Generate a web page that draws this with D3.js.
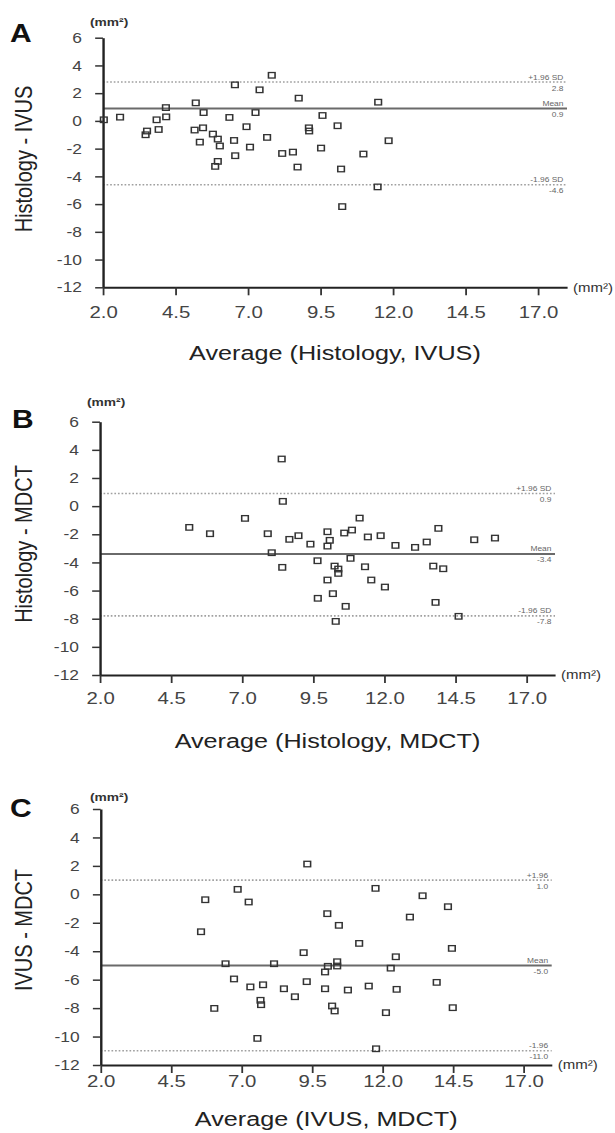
<!DOCTYPE html>
<html>
<head>
<meta charset="utf-8">
<script src="https://cdn.jsdelivr.net/npm/d3@7"></script>
<style>
  body { margin: 0; background: #fff; }
  text { font-family: "Liberation Sans", Arial, Helvetica, sans-serif; }
</style>
</head>
<body>
<div id="chart"></div>
<script>
// ---- data ----
const xTicks = [2.0, 4.5, 7.0, 9.5, 12.0, 14.5, 17.0];
const yTicks = [6, 4, 2, 0, -2, -4, -6, -8, -10, -12];

// A: Histology - IVUS
const histIvusAvg = [2.03, 2.59, 3.47, 3.52, 3.85, 3.92, 4.17, 4.18, 5.20, 5.16, 5.45, 5.47, 5.34, 5.79, 5.96,
  6.03, 5.96, 5.87, 6.55, 6.36, 6.52, 6.56, 6.95, 7.07, 7.40, 7.26, 7.82, 7.66, 8.18, 8.55, 8.75, 8.71, 9.10,
  9.11, 9.57, 9.52, 10.09, 10.21, 10.25, 10.98, 11.49, 11.47, 11.85];
const histIvusDiff = [0.08, 0.27, -1.0, -0.73, 0.08, -0.62, 0.96, 0.29, 1.30, -0.66, -0.50, 0.6, -1.53, -0.95, -1.31,
  -1.81, -2.92, -3.28, 2.6, 0.25, -1.41, -2.51, -0.42, -1.89, 2.24, 0.6, 3.29, -1.19, -2.35, -2.25, 1.64, -3.33, -0.5,
  -0.73, 0.39, -1.96, -0.35, -3.47, -6.18, -2.39, 1.35, -4.76, -1.43];
const histIvusLimits = [2.8, 0.9, -4.6];

// B: Histology - MDCT
const histMdctAvg = [5.14, 5.87, 7.10, 7.90, 8.04, 8.39, 8.43, 8.41, 8.66, 8.98, 9.40, 9.65, 10.0, 10.08, 10.0,
  10.25, 10.38, 10.38, 10.0, 10.19, 9.66, 10.29, 10.59, 10.86, 11.13, 10.81, 11.32, 11.42, 11.87, 11.54, 12.02,
  12.39, 13.08, 13.49, 13.9, 13.72, 14.07, 13.8, 15.16, 15.89, 14.61, 10.64];
const histMdctDiff = [-1.51, -1.96, -0.87, -1.96, -3.31, 3.35, 0.34, -4.35, -2.36, -2.1, -2.7, -3.88, -1.82, -2.43, -2.84,
  -4.26, -4.47, -4.78, -5.25, -6.22, -6.55, -8.19, -1.91, -1.7, -0.85, -3.71, -4.31, -2.19, -2.1, -5.25, -5.75,
  -2.79, -2.93, -2.55, -1.58, -4.26, -4.45, -6.84, -2.39, -2.27, -7.83, -7.12];
const histMdctLimits = [0.9, -3.4, -7.8];

// C: IVUS - MDCT
const ivusMdctAvg = [9.33, 6.86, 5.71, 7.25, 5.56, 6.43, 8.15, 9.2, 6.73, 7.31, 7.76, 6.03, 7.67, 7.69, 8.5, 8.89,
  9.31, 7.56, 10.04, 10.45, 9.96, 10.06, 9.96, 10.21, 10.3, 10.39, 10.39, 11.75, 13.42, 14.32, 12.97, 11.17, 14.46,
  12.47, 12.29, 10.77, 11.51, 12.5, 13.92, 14.49, 12.12, 11.77];
const ivusMdctDiff = [2.13, 0.35, -0.38, -0.54, -2.63, -4.88, -4.88, -4.1, -5.95, -6.51, -6.36, -8.02, -7.45, -7.76,
  -6.64, -7.2, -6.14, -10.13, -1.36, -2.18, -5.46, -5.06, -6.64, -7.85, -8.2, -4.74, -5.04, 0.42, -0.1, -0.87, -1.6,
  -3.45, -3.8, -4.39, -5.19, -6.73, -6.45, -6.68, -6.19, -7.97, -8.32, -10.86];
const ivusMdctLimits = [1.0, -5.0, -11.0];

const limitNames = ["+1.96 SD", "Mean", "-1.96 SD"];
const limitNamesShort = ["+1.96", "Mean", "-1.96"];

// the figure is stretched sideways, so draw in narrower units and stretch the svg
const SX = 1.2;
const W = 615, H = 1133;

const svg = d3.select("#chart").append("svg")
  .attr("width", W)
  .attr("height", H)
  .attr("viewBox", "0 0 " + (W / SX) + " " + H)
  .attr("preserveAspectRatio", "none");

// plain hyphen instead of d3's unicode minus, like the original
const fmt1 = v => v.toFixed(1);
const fmt0 = v => String(v);

function drawPanel(cfg) {
  const g = svg.append("g").attr("class", "panel-" + cfg.letter);

  const xScale = d3.scaleLinear().domain([2, 18]).range([cfg.left, cfg.right]);
  const yScale = d3.scaleLinear().domain([-12, 6]).range([cfg.bottom, cfg.top]);

  // limits of agreement + mean
  cfg.limits.forEach((v, i) => {
    g.append("line")
      .attr("x1", cfg.left).attr("x2", cfg.right)
      .attr("y1", yScale(v)).attr("y2", yScale(v))
      .attr("stroke", i === 1 ? "#6a6a6a" : "#a0a0a0")
      .attr("stroke-width", i === 1 ? 2 : 1.6)
      .attr("stroke-dasharray", i === 1 ? null : "1.4,1.6");

    g.append("text")
      .attr("x", cfg.right - 3).attr("y", yScale(v) - 2.5)
      .attr("text-anchor", "end")
      .attr("font-size", 7).attr("fill", "#666")
      .text(cfg.limitNames[i]);
    g.append("text")
      .attr("x", cfg.right - 3).attr("y", yScale(v) + 8.5)
      .attr("text-anchor", "end")
      .attr("font-size", 7).attr("fill", "#666")
      .text(fmt1(v));
  });

  // axes
  const yAxis = g.append("g")
    .attr("transform", "translate(" + cfg.left + ",0)")
    .call(d3.axisLeft(yScale).tickValues(yTicks).tickFormat(fmt0)
      .tickSize(6.5).tickSizeOuter(0).tickPadding(11));
  yAxis.selectAll("text").attr("font-size", 14.5).attr("fill", "#444").style("font-family", null);

  const xAxis = g.append("g")
    .attr("transform", "translate(0," + cfg.bottom + ")")
    .call(d3.axisBottom(xScale).tickValues(xTicks).tickFormat(fmt1)
      .tickSize(8).tickSizeOuter(0).tickPadding(cfg.xPad));
  xAxis.selectAll("text").attr("font-size", 17).attr("fill", "#444").style("font-family", null);

  g.selectAll(".domain").attr("stroke", "#222").attr("stroke-width", 2);
  g.selectAll(".tick line").attr("stroke", "#333").attr("stroke-width", 1.5);

  // points
  g.selectAll(".pt").data(d3.zip(cfg.avg, cfg.diff))
    .enter().append("rect")
    .attr("class", "pt")
    .attr("x", d => xScale(d[0]) - 2.75)
    .attr("y", d => yScale(d[1]) - 2.75)
    .attr("width", 5.5).attr("height", 5.5)
    .attr("fill", "none")
    .attr("stroke", "#333").attr("stroke-width", 1.3);

  // labels
  g.append("text")
    .attr("x", cfg.letterX).attr("y", cfg.letterY)
    .attr("font-size", 25).attr("font-weight", "bold").attr("fill", "#111")
    .text(cfg.letter);

  g.append("text")
    .attr("x", cfg.mmX).attr("y", cfg.mmY)
    .attr("font-size", 11.5).attr("font-weight", "bold").attr("fill", "#333")
    .text("(mm²)");

  g.append("text")
    .attr("x", cfg.right + 5).attr("y", cfg.bottom)
    .attr("dy", "0.35em")
    .attr("font-size", 12.5).attr("fill", "#333")
    .text("(mm²)");

  g.append("text")
    .attr("transform", "translate(27," + cfg.yLabelY + ") rotate(-90)")
    .attr("text-anchor", "middle")
    .attr("font-size", 20).attr("fill", "#222")
    .text(cfg.yLabel);

  g.append("text")
    .attr("x", (cfg.left + cfg.right) / 2).attr("y", cfg.titleY)
    .attr("text-anchor", "middle")
    .attr("font-size", 21).attr("fill", "#222")
    .text(cfg.xLabel);
}

drawPanel({
  letter: "A", avg: histIvusAvg, diff: histIvusDiff, limits: histIvusLimits, limitNames: limitNames,
  yLabel: "Histology - IVUS", xLabel: "Average (Histology, IVUS)",
  left: 85.8, right: 472.5, top: 37.7, bottom: 287.3, xPad: 11, titleY: 360,
  letterX: 8.3, letterY: 41.7, mmX: 75, mmY: 26, yLabelY: 159
});

drawPanel({
  letter: "B", avg: histMdctAvg, diff: histMdctDiff, limits: histMdctLimits, limitNames: limitNames,
  yLabel: "Histology - MDCT", xLabel: "Average (Histology, MDCT)",
  left: 83.3, right: 462.5, top: 421.7, bottom: 675, xPad: 9, titleY: 748,
  letterX: 10, letterY: 428, mmX: 72.5, mmY: 406, yLabelY: 544
});

drawPanel({
  letter: "C", avg: ivusMdctAvg, diff: ivusMdctDiff, limits: ivusMdctLimits, limitNames: limitNamesShort,
  yLabel: "IVUS - MDCT", xLabel: "Average (IVUS, MDCT)",
  left: 83.9, right: 459.75, top: 809, bottom: 1065, xPad: 2, titleY: 1126,
  letterX: 8.3, letterY: 817, mmX: 75, mmY: 801, yLabelY: 930
});
</script>
</body>
</html>
